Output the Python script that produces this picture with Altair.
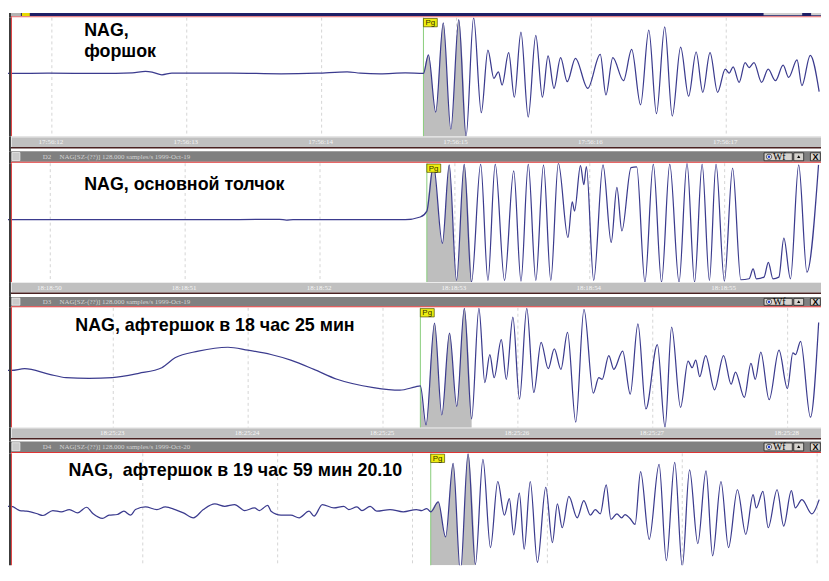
import altair as alt
import pandas as pd

# ---------------- data: time = seconds within the minute, amplitude = arbitrary units ----------------
# Panel 1: NAG foreshock, 17:56
fore_time = [11.67, 11.701, 11.983, 12.350, 12.596, 12.694, 12.743, 12.816, 12.890, 13.331, 13.699, 13.968,
             14.189, 14.287, 14.434, 14.620, 14.755, 14.792, 14.846, 14.902, 14.958, 15.017, 15.071, 15.127,
             15.184, 15.233, 15.277, 15.311, 15.338, 15.387, 15.429, 15.478, 15.532, 15.588, 15.637, 15.679,
             15.723, 15.772, 15.821, 15.882, 15.973, 16.066, 16.108, 16.159, 16.238, 16.299, 16.365, 16.426,
             16.483, 16.544, 16.600, 16.662, 16.721, 16.777, 16.826, 16.880, 16.936, 16.993, 17.022, 17.051,
             17.096, 17.140, 17.169, 17.206, 17.262, 17.311, 17.365, 17.422, 17.463, 17.525, 17.561, 17.623,
             17.689]
fore_amp = [11, 11, 12, 11, 13, 17, 15, 7, 12, 12, 10, 12,
            16, 12, 10, 13, 11, 67, -106, 164, -158, 174, -180, 180,
            -108, 82, -4, 16, -24, 74, -61, 136, -121, 126, -61, 64,
            -34, 59, -14, 57, -34, 69, -54, 59, -11, 84, -84, 142,
            -111, 152, -118, 91, -58, 76, -46, 74, -46, 24, 12, 31,
            -16, 44, 29, 44, -16, 24, -11, 36, -1, 52, -26, 66,
            -44]

# Panel 2: NAG main shock, 18:18
main_time = [49.68, 50.40, 51.10, 51.70, 51.75, 51.80, 52.30, 52.632, 52.743, 52.792,
             52.841, 52.907, 52.958, 53.012, 53.069, 53.123, 53.191, 53.245, 53.299, 53.368,
             53.436, 53.490, 53.544, 53.600, 53.657, 53.711, 53.767, 53.838, 53.870, 53.887,
             53.931, 53.956, 53.975, 54.029, 54.098, 54.159, 54.201, 54.238, 54.306, 54.348,
             54.409, 54.471, 54.532, 54.593, 54.662, 54.721, 54.777, 54.833, 54.887, 54.936,
             54.998, 55.059, 55.120, 55.181, 55.211, 55.235, 55.292, 55.324, 55.358, 55.402,
             55.439, 55.488, 55.549, 55.610, 55.696]
main_amp = [9, 9, 9, 10, 8, 9, 9, 9, 17, 35,
            175, -63, 175, -175, 177, -180, 177, -175, 177, -175,
            157, -177, 177, -175, 175, -175, 180, -45, 63, 35,
            173, 115, 170, -175, 175, -60, 107, -25, 167, 169,
            -180, 177, -180, 177, -180, 180, -180, 177, -175, 177,
            -177, 165, -173, -170, -140, -170, -165, -120, -170, -165,
            -47, -170, 175, -150, 175]

# Panel 3: NAG aftershock 18:25
after1_time = [22.21, 22.245, 22.343, 22.527, 22.650, 22.821, 22.993, 23.189, 23.360, 23.458,
               23.630, 23.850, 23.998, 24.169, 24.316, 24.488, 24.659, 24.929, 25.125, 25.24,
               25.277, 25.319, 25.382, 25.436, 25.493, 25.547, 25.603, 25.657, 25.711, 25.755,
               25.792, 25.824, 25.877, 25.914, 25.963, 26.012, 26.066, 26.118, 26.172, 26.225,
               26.270, 26.319, 26.368, 26.429, 26.490, 26.559, 26.600, 26.625, 26.674, 26.711,
               26.777, 26.833, 26.890, 26.949, 27.034, 27.091, 27.140, 27.206, 27.262, 27.292,
               27.319, 27.348, 27.392, 27.458, 27.525, 27.581, 27.613, 27.679, 27.728, 27.760,
               27.801, 27.863, 27.936, 27.998, 28.039, 28.059, 28.096, 28.169, 28.230]
after1_amp = [-8, -8, -3, -20, -30, -32, -30, -17, 0, 30,
              50, 62, 53, 40, 23, -5, -35, -60, -68, -58,
              -55, -173, 135, -143, 105, -117, 180, -155, 180, -45,
              40, -30, 85, -35, 153, -95, 180, -75, 77, -3,
              57, -5, 107, -165, 177, -77, -30, -35, 37, -5,
              50, -80, 133, -125, 70, -180, 123, -120, 20, 0,
              23, -27, 37, -67, 37, -50, -13, -90, 13, -35,
              47, -97, 53, -63, 45, 40, 80, -150, 137]

# Panel 4: NAG aftershock 19:59
after2_time = [17.00, 17.027, 17.088, 17.137, 17.211, 17.260, 17.333, 17.395, 17.456, 17.517,
               17.583, 17.632, 17.701, 17.750, 17.811, 17.860, 17.909, 17.946, 18.020, 18.105,
               18.167, 18.240, 18.301, 18.375, 18.449, 18.534, 18.608, 18.681, 18.755, 18.828,
               18.865, 18.926, 18.951, 19.025, 19.098, 19.159, 19.233, 19.270, 19.331, 19.417,
               19.490, 19.527, 19.588, 19.625, 19.686, 19.735, 19.833, 19.931, 20.029, 20.069,
               20.105, 20.135, 20.191, 20.245, 20.301, 20.355, 20.412, 20.466, 20.522, 20.578,
               20.632, 20.681, 20.718, 20.750, 20.792, 20.828, 20.873, 20.926, 20.988, 21.037,
               21.074, 21.110, 21.159, 21.221, 21.270, 21.319, 21.355, 21.392, 21.436, 21.471,
               21.515, 21.551, 21.576, 21.613, 21.650, 21.691, 21.755, 21.828, 21.882, 21.944,
               22.000, 22.054, 22.115, 22.176, 22.225, 22.287, 22.343, 22.409, 22.471, 22.525,
               22.549, 22.598, 22.637, 22.703, 22.752, 22.809, 22.838, 22.887, 22.961, 23.015]
after2_amp = [21, 21, 8, 6, -1, -7, 8, 4, 11, 1,
              18, -2, -16, -6, -4, 6, -6, 11, 19, 11,
              19, 11, 1, -14, 11, 28, 21, 26, 8, 16,
              8, 24, 6, -6, -6, -14, 6, -9, 26, 16,
              21, 11, 19, 8, 21, 6, 11, 4, 11, 8,
              14, 4, 34, -72, 151, -179, 181, -156, 163, -104,
              96, -6, 44, -66, 61, -109, 96, -149, 78, -89,
              28, -44, 51, -14, 38, -6, 11, -2, 86, -19,
              -2, -14, -4, -16, -34, 126, -79, 148, -144, 154,
              -162, 131, -92, 128, -129, 96, -104, 71, -64, 56,
              16, 66, -44, 71, -39, 68, 16, 41, -2, 41]

pg_times = [14.755, 52.792, 25.277, 20.135]
fill_ends = [15.071, 53.123, 25.657, 20.466]

tick_secs = [[12, 13, 14, 15, 16, 17], [50, 51, 52, 53, 54, 55],
             [23, 24, 25, 26, 27, 28], [18, 19, 20, 21, 22, 23]]
tick_labels = [["17:56:12", "17:56:13", "17:56:14", "17:56:15", "17:56:16", "17:56:17"],
               ["18:18:50", "18:18:51", "18:18:52", "18:18:53", "18:18:54", "18:18:55"],
               ["18:25:23", "18:25:24", "18:25:25", "18:25:26", "18:25:27", "18:25:28"],
               []]
titles = [["NAG,", "форшок"], ["NAG, основной толчок"], ["NAG, афтершок в 18 час 25 мин"],
          ["NAG,\u00a0 афтершок в 19 час 59 мин 20.10"]]
channels = ["", "D2", "D3", "D4"]
channel_info = ["", "NAG[SZ-(??)] 128.000 samples/s 1999-Oct-19",
                "NAG[SZ-(??)] 128.000 samples/s 1999-Oct-19",
                "NAG[SZ-(??)] 128.000 samples/s 1999-Oct-20"]

# ---------------- layout ----------------
W = 821
x_domains = [[11.6747, 17.7027], [49.6865, 55.7144], [22.2195, 28.2474], [17.0007, 23.0286]]
y_domains = [[-180, 180], [-180, 180], [-181.5, 181.5], [-157.8, 181.2]]
head_h = [7, 12, 11, 12]
plot_h = [120, 120, 121, 113]
bar_h = [15, 15, 14, None]
title_pos = [(77, [18.5, 39.5]), (77, [27.3]), (68, [23.7]), (61, [22.7])]

dummy = pd.DataFrame({"k": [0]})
SERIF = "Liberation Serif"
SANS = "Liberation Sans"


def rect(x1, x2, y1, y2, fill, stroke=None, sw=0.8):
    kw = dict(fill=fill)
    if stroke:
        kw.update(stroke=stroke, strokeWidth=sw)
    return alt.Chart(dummy).mark_rect(**kw).encode(
        x=alt.value(x1), x2=alt.value(x2), y=alt.value(y1), y2=alt.value(y2))


def txt(s, x, y, size, color, font=SERIF, weight="normal", align="left", baseline="middle"):
    return alt.Chart(dummy).mark_text(text=s, fontSize=size, color=color, font=font,
                                      fontWeight=weight, align=align, baseline=baseline).encode(
        x=alt.value(x), y=alt.value(y))


def header(i):
    h = head_h[i]
    L = []
    if i == 0:
        L += [rect(2, W, 2.3, 5.5, "#1e1e66"),
              rect(2, 13, 2.3, 5.5, "#b4b4b4"),
              rect(14, 22, 2.3, 5.5, "#e8d800"),
              rect(763, 802, 2.3, 4.6, "#d0d0d0"),
              rect(811, W, 2.3, 4.6, "#d0d0d0"),
              rect(4, W, 5.5, 6.6, "#f07070"),
              rect(1, 3, 2.3, h, "#3c3c3c"),
              rect(3, 4, 5.5, h, "#e04040")]
    else:
        g = h - 1.5
        L += [rect(2, W, 0, g, "#808080"),
              rect(1, 3, 0, h, "#3c3c3c"),
              rect(4, 12, 1.2, g - 1.2, "#cacaca", "#eeeeee", 0.8),
              txt(channels[i], 35, g / 2 + 0.3, 7, "#d4d4d4"),
              txt(channel_info[i], 52, g / 2 + 0.3, 7, "#d4d4d4"),
              rect(763.5, 792, 1.5, g - 1, "#d6d3ce", "#202020"),
              alt.Chart(dummy).mark_point(shape="circle", size=28, filled=True, fill="#ffffff",
                                          stroke="#303030", strokeWidth=0.8, opacity=1).encode(
                  x=alt.value(768.5), y=alt.value(g / 2 + 0.2)),
              alt.Chart(dummy).mark_point(shape="circle", size=7, filled=True, color="#2040d0",
                                          opacity=1).encode(x=alt.value(768.5), y=alt.value(g / 2 + 0.2)),
              txt("Wf", 772.5, g / 2 + 0.8, 10, "#000000"),
              rect(793.5, 803.5, 1.5, g - 1, "#d6d3ce", "#202020"),
              alt.Chart(dummy).mark_point(shape="triangle-up", size=10, filled=True, color="#000000",
                                          opacity=1).encode(x=alt.value(798.5), y=alt.value(g / 2)),
              rect(810.3, 820.3, 1.5, g - 1, "#d6d3ce", "#202020"),
              txt("X", 815.3, g / 2 + 0.4, 9, "#000000", font=SANS, weight="bold", align="center"),
              rect(4, W, g, g + 1, "#e03434"),
              rect(3, 4, g, h, "#e04040")]
    return alt.layer(*L).properties(width=W, height=h)


def plot(i, times, amps):
    h = plot_h[i]
    df = pd.DataFrame({"t": times, "a": amps})
    xs = alt.Scale(domain=x_domains[i], nice=False, zero=False)
    ys = alt.Scale(domain=y_domains[i], nice=False, zero=False)
    X = alt.X("t:Q", scale=xs, axis=None)
    Y = alt.Y("a:Q", scale=ys, axis=None)
    pg = pg_times[i]
    pgdf = pd.DataFrame({"t": [pg]})
    grid = alt.Chart(pd.DataFrame({"t": tick_secs[i]})).mark_rule(
        color="#d4d4d4", strokeDash=[3, 3], strokeWidth=1).encode(x=X)
    fill = alt.Chart(df).transform_filter(
        (alt.datum.t >= pg) & (alt.datum.t <= fill_ends[i])).mark_area(
        color="#bebebe", interpolate="monotone", clip=True, opacity=1).encode(
        x=X, y=Y, y2=alt.datum(y_domains[i][0]))
    pgline = alt.Chart(pgdf).mark_rule(color="#88cc7a", strokeWidth=1).encode(x=X)
    line = alt.Chart(df).mark_line(color="#3b3b8e", strokeWidth=1.25, interpolate="monotone",
                                   clip=True).encode(x=X, y=Y)
    pgbox = alt.Chart(pgdf).mark_point(shape="M0,-0.3L1,-0.3L1,0.3L0,0.3Z", size=784, filled=True,
                                       fill="#eeee10", stroke="#505000", strokeWidth=0.7,
                                       opacity=1).encode(x=X, y=alt.value(5))
    pgtext = alt.Chart(pgdf).mark_text(text="Pg", align="left", baseline="middle", dx=2, dy=0.5,
                                       fontSize=8, font=SANS, color="#303000").encode(x=X, y=alt.value(5))
    tx, tys = title_pos[i]
    tl = [txt(s, tx, ty, 18, "#000000", font=SANS, weight="bold", baseline="alphabetic")
          for s, ty in zip(titles[i], tys)]
    frame = [rect(1, 3, 0, h, "#3c3c3c"), rect(3, 4, 0, h, "#e04040")]
    return alt.layer(grid, fill, pgline, line, pgbox, pgtext, *tl, *frame).properties(width=W, height=h)


def timebar(i):
    h = bar_h[i]
    xs = alt.Scale(domain=x_domains[i], nice=False, zero=False)
    lab = pd.DataFrame({"t": tick_secs[i], "label": tick_labels[i]})
    L = [rect(1, 3, 0, h, "#3c3c3c"),
         rect(3, W, 0, 10.5, "#c0c0c0"),
         rect(3, W, 0, 1, "#ececec"),
         rect(3, 4, 0, 10.5, "#e6e6e6"),
         rect(3, W, 10.5, 12, "#4a2222"),
         alt.Chart(lab).mark_text(fontSize=7, font=SERIF, color="#f6f6f6", align="center",
                                  baseline="middle", dx=-1).encode(
             x=alt.X("t:Q", scale=xs, axis=None), y=alt.value(5.8), text="label:N")]
    return alt.layer(*L).properties(width=W, height=h)


series = [(fore_time, fore_amp), (main_time, main_amp), (after1_time, after1_amp), (after2_time, after2_amp)]
rows = []
for i, (tt, aa) in enumerate(series):
    rows.append(header(i))
    rows.append(plot(i, tt, aa))
    if bar_h[i]:
        rows.append(timebar(i))

chart = alt.vconcat(*rows, spacing=0, bounds="flush").resolve_scale(
    x="independent", y="independent").properties(padding=0).configure_view(stroke=None)

chart.save("out.html", embed_options={"renderer": "svg", "actions": False})
